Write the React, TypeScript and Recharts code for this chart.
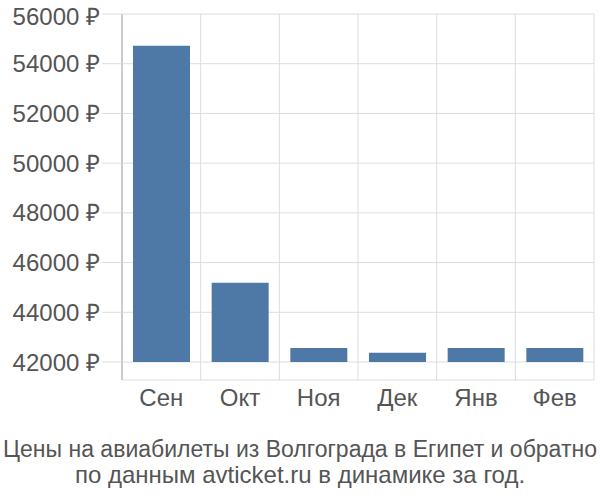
import { BarChart, Bar, XAxis, YAxis, CartesianGrid } from "recharts";

const months = ["Сен", "Окт", "Ноя", "Дек", "Янв", "Фев"];
const prices = [54720, 45190, 42560, 42370, 42560, 42560];
const priceTicks = [42000, 44000, 46000, 48000, 50000, 52000, 54000, 56000];
const baseline = 42000;
const titleLines = [
  "Цены на авиабилеты из Волгограда в Египет и обратно",
  "по данным avticket.ru в динамике за год.",
];

const data = months.map((m, i) => ({ month: m, price: [baseline, prices[i]] }));

const fontFamily = "'Liberation Sans', Arial, sans-serif";

export default function App() {
  // vertical grid lines sit between the categories, not on the ticks
  const boundaries = ({ offset }: any) =>
    months.map((_, i) => offset.left + (i * offset.width) / months.length).concat(offset.left + offset.width);

  return (
    <div style={{ position: "absolute", left: 0, top: 0, width: 600, height: 500, background: "#fff" }}>
      <BarChart
        width={600}
        height={500}
        data={data}
        margin={{ top: 14, right: 6, bottom: 80, left: 0 }}
        barCategoryGap={11}
      >
        <CartesianGrid stroke="#dddddd" verticalCoordinatesGenerator={boundaries} />
        <XAxis
          dataKey="month"
          height={40}
          axisLine={false}
          tickLine={false}
          tickSize={0}
          tickMargin={9}
          tick={{ fontSize: 24, fill: "#555", fontFamily }}
        />
        <YAxis
          width={122}
          domain={[41276, 56000]}
          ticks={priceTicks}
          allowDataOverflow
          axisLine={{ stroke: "#aaaaaa" }}
          tickLine={{ stroke: "#dddddd" }}
          tickSize={20}
          tickMargin={2}
          tickFormatter={(v: number) => `${v} ₽`}
          tick={{ fontSize: 24, fill: "#555", fontFamily }}
        />
        <Bar dataKey="price" fill="#4e79a7" isAnimationActive={false} />
      </BarChart>
      <svg width={600} height={70} style={{ position: "absolute", left: 0, top: 430 }}>
        <text x={300} y={27} textAnchor="middle" fontSize={23} fontFamily={fontFamily} fill="#555">
          {titleLines[0]}
        </text>
        <text x={300} y={53} textAnchor="middle" fontSize={24} fontFamily={fontFamily} fill="#555">
          {titleLines[1]}
        </text>
      </svg>
    </div>
  );
}
